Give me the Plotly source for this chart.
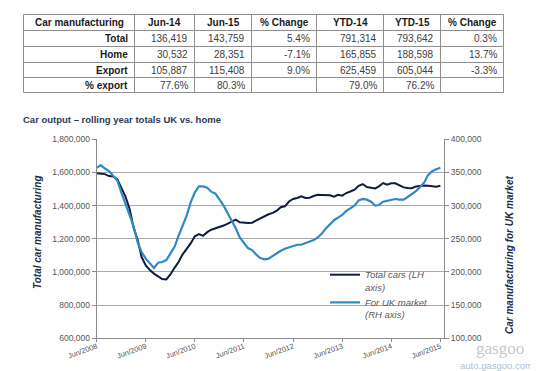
import plotly.graph_objects as go
import pandas as pd

# ---------------- table data ----------------
table_header = ["Car manufacturing", "Jun-14", "Jun-15", "% Change", "YTD-14", "YTD-15", "% Change"]
row_labels = ["Total", "Home", "Export", "% export"]
jun14 = ["136,419", "30,532", "105,887", "77.6%"]
jun15 = ["143,759", "28,351", "115,408", "80.3%"]
chg_jun = ["5.4%", "-7.1%", "9.0%", ""]
ytd14 = ["791,314", "165,855", "625,459", "79.0%"]
ytd15 = ["793,642", "188,598", "605,044", "76.2%"]
chg_ytd = ["0.3%", "13.7%", "-3.3%", ""]

# ---------------- chart data (monthly, rolling year totals) ----------------
chart_title = "Car output \u2013 rolling year totals UK vs. home"
start_month = "2008-06-01"
total_cars = [
    1595000, 1593000, 1590000, 1578000, 1576000, 1560000, 1510000, 1455000, 1380000, 1270000,
    1195000, 1090000, 1040000, 1012000, 990000, 972000, 957000, 955000, 985000, 1025000,
    1062000, 1105000, 1140000, 1172000, 1215000, 1228000, 1218000, 1240000, 1255000, 1262000,
    1272000, 1280000, 1292000, 1305000, 1316000, 1300000, 1297000, 1296000, 1297000, 1310000,
    1325000, 1336000, 1348000, 1356000, 1370000, 1390000, 1396000, 1425000, 1440000, 1446000,
    1456000, 1446000, 1448000, 1458000, 1465000, 1464000, 1464000, 1462000, 1454000, 1465000,
    1460000, 1476000, 1485000, 1496000, 1520000, 1530000, 1512000, 1506000, 1504000, 1516000,
    1536000, 1526000, 1535000, 1535000, 1520000, 1510000, 1506000, 1505000, 1516000, 1520000,
    1522000, 1520000, 1515000, 1514000, 1520000,
]
uk_market = [
    357000, 361000, 356000, 352000, 345000, 338000, 320000, 303000, 285000, 270000,
    245000, 230000, 220000, 213000, 206000, 214000, 215000, 218000, 228000, 238000,
    255000, 268000, 285000, 305000, 320000, 329000, 329000, 327000, 321000, 318000,
    310000, 300000, 288000, 278000, 266000, 252000, 243000, 236000, 233000, 226000,
    221000, 219000, 220000, 224000, 229000, 232000, 235000, 237000, 240000, 241000,
    241000, 243000, 245000, 248000, 252000, 258000, 266000, 272000, 278000, 282000,
    286000, 292000, 296000, 300000, 308000, 310000, 309000, 306000, 300000, 301000,
    306000, 307000, 308000, 310000, 309000, 309000, 313000, 317000, 322000, 328000,
    335000, 346000, 352000, 355000, 357000,
]
series_names = ["Total cars (LH<br>axis)", "For UK market<br>(RH axis)"]
left_title = "Total car manufacturing"
right_title = "Car manufacturing for UK market"

months = pd.date_range(start_month, periods=len(total_cars), freq="MS")

# The page body has an 8px margin, so the figure is drawn 8px in from the
# window's top-left corner; size it so that it fills the 539x371 window.
OFF = 8
W, H = 539 - OFF, 371 - OFF
def px_x(x):
    return (x - OFF) / W
def px_y(y):
    return 1 - (y - OFF) / H

FONT = "Liberation Sans, Arial, sans-serif"

fig = go.Figure()

# ---------------- lines ----------------
fig.add_trace(go.Scatter(
    x=months, y=total_cars, name="<i>%s</i>" % series_names[0], mode="lines",
    line=dict(color="#0f1c3f", width=2), yaxis="y",
))
fig.add_trace(go.Scatter(
    x=months, y=uk_market, name="<i>%s</i>" % series_names[1], mode="lines",
    line=dict(color="#2f8ac4", width=2.2), yaxis="y2",
))

tick_font = dict(family=FONT, size=8.5, color="#555555")
grid_c = "#a8a8a8"
axis_c = "#8c8c8c"

fig.update_layout(
    template="none",
    width=W, height=H,
    margin=dict(l=0, r=0, t=0, b=0),
    paper_bgcolor="white", plot_bgcolor="white",
    font=dict(family=FONT),
    xaxis=dict(
        domain=[px_x(96.7), px_x(444)],
        type="date",
        range=["2008-06-01", "2015-06-28"],
        tick0="2008-06-01", dtick="M12", tickformat="%b/%Y",
        tickangle=-20, tickfont=dict(family=FONT, size=7.5, color="#555555"),
        ticks="outside", ticklen=3, tickcolor=axis_c,
        ticklabelstandoff=-3,
        showline=True, linecolor=axis_c, linewidth=1,
        showgrid=False, zeroline=False, automargin=False,
    ),
    yaxis=dict(
        domain=[px_y(338.3), px_y(139.3)],
        range=[600000, 1800000], dtick=200000, tickformat=",",
        tickfont=tick_font,
        ticks="outside", ticklen=4, tickcolor=axis_c,
        showline=True, linecolor=axis_c, linewidth=1,
        showgrid=True, gridcolor=grid_c, gridwidth=1,
        zeroline=False, automargin=False,
    ),
    yaxis2=dict(
        overlaying="y", side="right", anchor="x",
        range=[100000, 400000], dtick=50000, tickformat=",",
        tickfont=tick_font,
        ticks="outside", ticklen=4, tickcolor=axis_c,
        showline=True, linecolor=axis_c, linewidth=1,
        showgrid=False, zeroline=False, automargin=False,
    ),
    legend=dict(
        x=px_x(325), y=px_y(262), xanchor="left", yanchor="top",
        bgcolor="rgba(0,0,0,0)", valign="top",
        font=dict(family=FONT, size=9.5, color="#5a5a5a"),
        tracegroupgap=2,
    ),
    showlegend=True,
)

# ---------------- table (drawn with shapes + annotations) ----------------
col_edges = [23.5, 134.5, 194.5, 251.5, 316.5, 383.5, 440.5, 503.5]
row_edges = [14.5, 30.5, 46.5, 62.5, 77.5, 92.5]
border_c = "#8f8f8f"
shapes = []
for xe in col_edges:
    shapes.append(dict(type="line", xref="paper", yref="paper",
                       x0=px_x(xe), x1=px_x(xe), y0=px_y(row_edges[0]), y1=px_y(row_edges[-1]),
                       line=dict(color=border_c, width=1)))
for ye in row_edges:
    shapes.append(dict(type="line", xref="paper", yref="paper",
                       x0=px_x(col_edges[0]), x1=px_x(col_edges[-1]), y0=px_y(ye), y1=px_y(ye),
                       line=dict(color=border_c, width=1)))

annotations = []
columns = [row_labels, jun14, jun15, chg_jun, ytd14, ytd15, chg_ytd]
for ci, head in enumerate(table_header):
    xm = (col_edges[ci] + col_edges[ci + 1]) / 2
    ym = (row_edges[0] + row_edges[1]) / 2
    annotations.append(dict(text="<b>%s</b>" % head, x=px_x(xm), y=px_y(ym + 0.5),
                            xref="paper", yref="paper", xanchor="center", yanchor="middle",
                            showarrow=False, font=dict(family=FONT, size=10, color="#1a1a1a")))
    for ri, val in enumerate(columns[ci]):
        if not val:
            continue
        ym = (row_edges[ri + 1] + row_edges[ri + 2]) / 2
        txt = "<b>%s</b>" % val if ci == 0 else val
        col = "#1a1a1a" if ci == 0 else "#404040"
        annotations.append(dict(text=txt, x=px_x(col_edges[ci + 1] - 5), y=px_y(ym + 0.5),
                                xref="paper", yref="paper", xanchor="right", yanchor="middle",
                                showarrow=False, font=dict(family=FONT, size=10, color=col)))

annotations += [
    dict(text="<b>%s</b>" % chart_title, x=px_x(21), y=px_y(119), xref="paper", yref="paper",
         xanchor="left", yanchor="middle", showarrow=False,
         font=dict(family=FONT, size=9.5, color="#2b3a55")),
    dict(text="<b><i>%s</i></b>" % left_title, x=px_x(37), y=px_y(232), xref="paper", yref="paper",
         xanchor="center", yanchor="middle", textangle=-90, showarrow=False,
         font=dict(family=FONT, size=10, color="#1f2a44")),
    dict(text="<b><i>%s</i></b>" % right_title, x=px_x(509), y=px_y(255), xref="paper", yref="paper",
         xanchor="center", yanchor="middle", textangle=-90, showarrow=False,
         font=dict(family=FONT, size=10, color="#1f2a44")),
    dict(text="gasgoo", x=px_x(500), y=px_y(348), xref="paper", yref="paper",
         xanchor="center", yanchor="middle", showarrow=False, borderpad=0,
         font=dict(family="Liberation Serif, serif", size=17, color="rgba(150,150,150,0.55)")),
    dict(text="auto.gasgoo.com", x=px_x(496), y=px_y(365), xref="paper", yref="paper",
         xanchor="center", yanchor="middle", showarrow=False, borderpad=0,
         font=dict(family=FONT, size=9.5, color="rgba(130,160,190,0.7)")),
]
fig.update_layout(annotations=annotations, shapes=shapes)

fig.write_html("out.html")
